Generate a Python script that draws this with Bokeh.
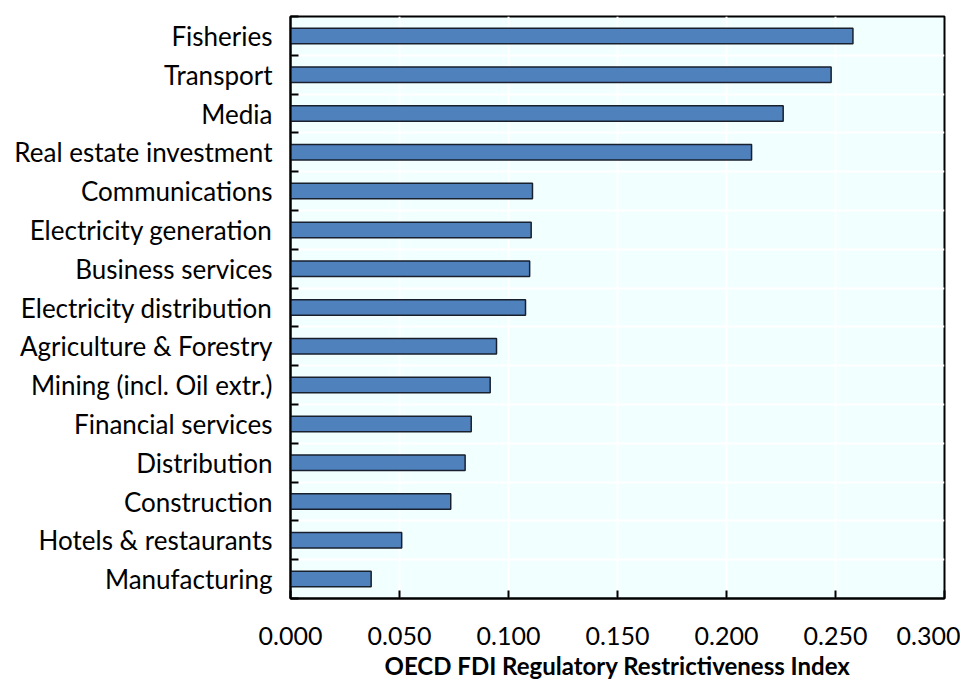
from bokeh.plotting import figure
from bokeh.models import FixedTicker, NumeralTickFormatter, ColumnDataSource, Range1d
from bokeh.embed import file_html
from bokeh.resources import INLINE

# Data
sectors = ["Fisheries", "Transport", "Media", "Real estate investment", "Communications",
           "Electricity generation", "Business services", "Electricity distribution",
           "Agriculture & Forestry", "Mining (incl. Oil extr.)", "Financial services",
           "Distribution", "Construction", "Hotels & restaurants", "Manufacturing"]
index_values = [0.258, 0.248, 0.226, 0.2115, 0.111, 0.1104, 0.1097, 0.1078,
                0.0945, 0.0916, 0.0829, 0.0801, 0.0735, 0.051, 0.037]
x_ticks = [0.0, 0.05, 0.10, 0.15, 0.20, 0.25, 0.30]

n = len(sectors)
ypos = [n - i - 0.5 for i in range(n)]
src = ColumnDataSource(dict(y=ypos, v=index_values, name=sectors))

FONT = "Lato"

p = figure(frame_width=654, frame_height=582, output_backend="svg", toolbar_location=None,
           x_range=Range1d(0, 0.3), y_range=Range1d(0, n),
           min_border_left=290, min_border_right=16, min_border_top=16, min_border_bottom=10)
p.background_fill_color = "#F2FFFF"
p.border_fill_color = "white"
p.outline_line_color = "black"
p.outline_line_width = 2

p.hbar(y="y", right="v", left=0, height=0.4, source=src,
       fill_color="#4F81BD", line_color="#18202E", line_width=1.5)

# X axis
p.xaxis.ticker = FixedTicker(ticks=x_ticks)
p.xaxis.formatter = NumeralTickFormatter(format="0.000")
p.xaxis.major_tick_in = 8
p.xaxis.major_tick_out = 0
p.xaxis.minor_tick_line_color = None
p.xaxis.axis_line_width = 2
p.xaxis.major_tick_line_width = 2
p.xaxis.major_label_text_font = FONT
p.xaxis.major_label_text_font_size = "25px"
p.xaxis.major_label_text_color = "black"
p.xaxis.major_label_standoff = 28
p.xaxis.axis_label = "OECD FDI Regulatory Restrictiveness Index"
p.xaxis.axis_label_text_font = FONT
p.xaxis.axis_label_text_font_style = "bold"
p.xaxis.axis_label_text_font_size = "24px"
p.xaxis.axis_label_text_color = "black"
p.xaxis.axis_label_standoff = 3

# Y axis: labels at category centres, tick marks at boundaries
boundaries = list(range(0, n + 1))
p.yaxis.ticker = FixedTicker(ticks=ypos, minor_ticks=boundaries)
p.yaxis.major_label_overrides = {y: s for y, s in zip(ypos, sectors)}
p.yaxis.major_tick_in = 0
p.yaxis.major_tick_out = 0
p.yaxis.minor_tick_in = 8
p.yaxis.minor_tick_out = 0
p.yaxis.minor_tick_line_width = 2
p.yaxis.axis_line_width = 2
p.yaxis.major_label_text_font = FONT
p.yaxis.major_label_text_font_size = "26px"
p.yaxis.major_label_text_color = "black"
p.yaxis.major_label_standoff = 18

# Grid
p.xgrid.ticker = FixedTicker(ticks=x_ticks)
p.xgrid.grid_line_color = "white"
p.xgrid.grid_line_width = 2
p.ygrid.ticker = FixedTicker(ticks=boundaries)
p.ygrid.grid_line_color = "white"
p.ygrid.grid_line_width = 2

open("out.html", "w").write(file_html(p, INLINE))
